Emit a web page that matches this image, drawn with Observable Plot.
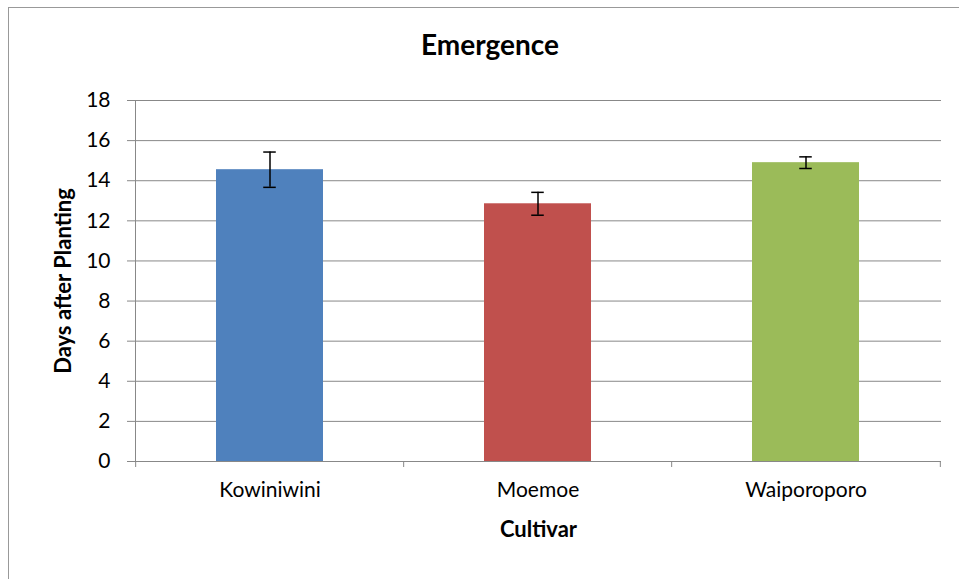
<!DOCTYPE html>
<html>
<head>
<meta charset="utf-8">
<script src="https://cdn.jsdelivr.net/npm/d3@7"></script>
<script src="https://cdn.jsdelivr.net/npm/@observablehq/plot@0.6"></script>
<style>
  html, body { margin: 0; padding: 0; background: #fff; }
  #wrap { position: relative; width: 959px; height: 579px; overflow: hidden; }
  #border { position: absolute; left: 8px; top: 7px; width: 1000px; height: 1000px; border: 1px solid #999; pointer-events: none; box-sizing: border-box; }
  #title { position: absolute; left: 0; width: 980px; top: 28px; line-height: 1.2; text-align: center; font-family: Lato, sans-serif; font-weight: bold; font-size: 28px; color: #000; }
</style>
</head>
<body>
<div id="wrap">
  <div id="chart"></div>
  <div id="border"></div>
  <div id="title">Emergence</div>
</div>
<script>
const cultivars = ["Kowiniwini", "Moemoe", "Waiporoporo"];
const means = [14.55, 12.85, 14.9];
const errors = [0.88, 0.57, 0.29];
const colors = ["#4F81BD", "#C0504D", "#9BBB59"];
const yTicks = [0, 2, 4, 6, 8, 10, 12, 14, 16, 18];

const data = cultivars.map((c, i) => ({cultivar: c, mean: means[i], lo: means[i] - errors[i], hi: means[i] + errors[i]}));

const W = 959, H = 579, ML = 135, MR = 18, MT = 100, MB = 118;
const step = (W - ML - MR) / cultivars.length;
const bandwidth = step * 0.4;
const capInset = bandwidth / 2 - 6.5;
const grid = "#888";

const chart = Plot.plot({
  width: W, height: H,
  marginLeft: ML, marginRight: MR, marginTop: MT, marginBottom: MB,
  x: {domain: cultivars, paddingInner: 0.6, paddingOuter: 0.3, label: null},
  y: {domain: [0, 18], label: null},
  color: {domain: cultivars, range: colors},
  style: {fontFamily: "Lato, sans-serif", fontSize: "21px", color: "#000", background: "transparent"},
  marks: [
    Plot.ruleY(yTicks, {stroke: grid, strokeWidth: 1}),
    Plot.frame({anchor: "left", stroke: grid}),
    Plot.barY(data, {x: "cultivar", y: "mean", fill: "cultivar"}),
    Plot.ruleX(data, {x: "cultivar", y1: "lo", y2: "hi", stroke: "#000", strokeWidth: 1.5}),
    Plot.tickY(data, {x: "cultivar", y: "lo", stroke: "#000", strokeWidth: 1.5, insetLeft: capInset, insetRight: capInset}),
    Plot.tickY(data, {x: "cultivar", y: "hi", stroke: "#000", strokeWidth: 1.5, insetLeft: capInset, insetRight: capInset}),
    Plot.axisY({ticks: yTicks, tickSize: 8, tickPadding: 17, stroke: grid, label: null, fontSize: 21}),
    Plot.axisX({tickSize: 0, tickPadding: 21, label: null, fontSize: 21}),
    Plot.axisX(cultivars, {tickSize: 6, tickFormat: () => "", dx: -step / 2, stroke: grid, label: null}),
    Plot.axisX([cultivars[cultivars.length - 1]], {tickSize: 6, tickFormat: () => "", dx: step / 2, stroke: grid, label: null}),
    Plot.text(["Days after Planting"], {frameAnchor: "left", textAnchor: "middle", rotate: -90, dx: -72, fontWeight: "bold", fontSize: 22}),
    Plot.text(["Cultivar"], {frameAnchor: "bottom", dy: 75, fontWeight: "bold", fontSize: 22})
  ]
});
document.getElementById("chart").appendChild(chart);
</script>
</body>
</html>
